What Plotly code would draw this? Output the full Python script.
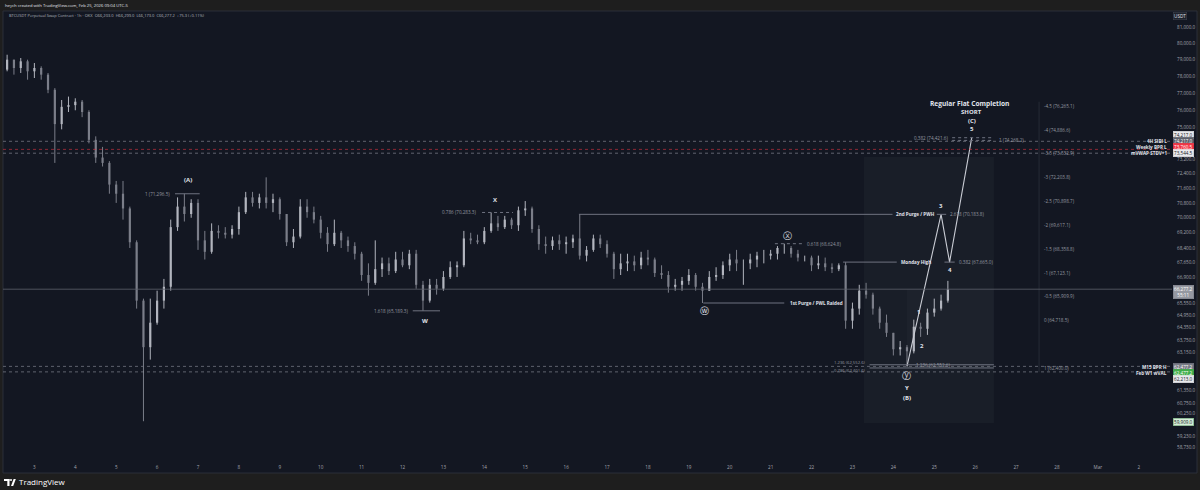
import math
import pandas as pd
import plotly.graph_objects as go

# ---------------------------------------------------------------
# BTCUSDT perpetual (OKX) - 4h bars, local time UTC-5
# ---------------------------------------------------------------
bar_start = "2026-02-02 04:00"
first_open = 77700.0

bar_close = [
    78400, 79000, 78500, 78900, 78300,                      # Feb 2
    78500, 78100, 77200, 75200, 76200, 76300,               # Feb 3
    76500, 75900, 74300, 73300, 73000, 71800,               # Feb 4
    71300, 70500, 68700, 65700, 63400, 64600,               # Feb 5
    65700, 66400, 69500, 70600, 70200, 70800,               # Feb 6
    68800, 68200, 69300, 69200, 69100, 69400,               # Feb 7
    70300, 71100, 70800, 71100, 70800, 71000,               # Feb 8
    70200, 68700, 69000, 70600, 70300, 69900,               # Feb 9
    69200, 68600, 69200, 68800, 68500, 68100,               # Feb 10
    67000, 66600, 67300, 67600, 67200, 67800,               # Feb 11
    67500, 68100, 66500, 65700, 66500, 66300,               # Feb 12
    66900, 67400, 67500, 68900, 68800, 68700,               # Feb 13
    69300, 69700, 69500, 69900, 69600, 70400,               # Feb 14
    70500, 69400, 68600, 68500, 68800, 68600,               # Feb 15
    68700, 68900, 68000, 68300, 68900, 68600,               # Feb 16
    68100, 67300, 67600, 67700, 67500, 67900,               # Feb 17
    67800, 67100, 67000, 66400, 66500, 66700,               # Feb 18
    67000, 66400, 66200, 66900, 67000, 67500,               # Feb 19
    67800, 67600, 67600, 67800, 68000, 68000,               # Feb 20
    68100, 68400, 68400, 68100, 67900, 67900,               # Feb 21
    67500, 67600, 67400, 67300, 67500, 64700,               # Feb 22
    65300, 66200, 66000, 65300, 64600, 64100,               # Feb 23
    63300, 63400, 63200, 64400, 64300, 65100,               # Feb 24
    65300, 65700, 66277.2,                                  # Feb 25
]
bar_high = [
    78700, 79300, 79000, 79100, 79000,
    78800, 78600, 78200, 77300, 76600, 76800,
    76700, 76600, 76000, 74500, 73900, 73100,
    72000, 72000, 70600, 68800, 65800, 65800,
    66200, 66800, 69900, 71100, 71296.5, 71000,
    71000, 69300, 69700, 69600, 69500, 69600,
    70600, 71400, 71400, 71300, 72200, 71300,
    71100, 70200, 69400, 71000, 71000, 70600,
    70100, 69500, 69900, 69300, 69000, 68700,
    68200, 67600, 68800, 67900, 67900, 68200,
    68200, 68300, 68300, 66700, 66800, 66800,
    67200, 67700, 67700, 69300, 69200, 69100,
    69500, 70283.3, 70100, 70100, 70000, 70600,
    70900, 70600, 69600, 69000, 69000, 69100,
    69000, 69100, 70180, 68500, 69100, 69100,
    68800, 68200, 68100, 68100, 68000, 68200,
    68300, 67900, 67500, 67200, 66800, 66900,
    67300, 67100, 66600, 67200, 67400, 67700,
    68100, 68300, 67800, 68100, 68200, 68300,
    68300, 68500, 68624.8, 68500, 68300, 68000,
    68000, 68000, 67900, 67600, 67600, 67665,
    65600, 66500, 66600, 66100, 65400, 65000,
    64100, 63700, 63500, 64750, 64600, 65300,
    65800, 66000, 66700,
]
bar_low = [
    77550, 78300, 78100, 78200, 77800,
    77900, 77800, 77000, 73000, 74900, 75900,
    76000, 75600, 74100, 73000, 72800, 71300,
    70800, 69900, 68400, 65300, 59909, 62800,
    64500, 65300, 66200, 69300, 69800, 70000,
    68300, 67800, 68100, 68900, 68900, 68900,
    69100, 70200, 70600, 70500, 70500, 70300,
    69900, 68500, 68400, 68900, 70000, 69700,
    68900, 68200, 68500, 68400, 68200, 67800,
    66700, 65950, 66500, 66900, 67000, 67100,
    67400, 67300, 66300, 65189.3, 65600, 66000,
    66200, 66800, 66900, 67400, 68600, 68600,
    68600, 69200, 69300, 69400, 69400, 69300,
    70100, 69200, 68300, 68100, 68300, 68300,
    68100, 68400, 67800, 67700, 68200, 68400,
    67900, 66800, 67000, 67200, 67200, 67300,
    67500, 66900, 66800, 66100, 66200, 66200,
    66500, 66200, 65580, 66200, 66700, 66800,
    67200, 67200, 66500, 67300, 67400, 67600,
    67800, 67800, 68100, 67900, 67700, 67700,
    67200, 67300, 67200, 67100, 67200, 64300,
    64300, 65000, 65800, 65000, 64300, 63900,
    63000, 63000, 62480, 63100, 63900, 64000,
    64900, 65200, 65600,
]

bar_time = list(pd.date_range(bar_start, periods=len(bar_close), freq="4h"))
bar_open = [first_open] + bar_close[:-1]

# Projected wave Y -> 3 -> 4 -> 5
wave_time = ["2026-02-24 08:00", "2026-02-25 04:00", "2026-02-25 09:00", "2026-02-25 22:00"]
wave_price = [62480.0, 70183.8, 67665.0, 74421.6]

# Fib extension labels on the right
fib_ratio = ["-4.5", "-4", "-3.5", "-3", "-2.5", "-2", "-1.5", "-1", "-0.5", "0", "1"]
fib_price = [76265.1, 74886.6, 73532.9, 72203.8, 70898.7, 69617.1, 68358.8,
             67123.1, 65909.9, 64718.5, 62400.0]

# Price scale ticks
price_ticks = [81000, 80000, 79000, 78000, 77000, 76000, 75000, 73200, 72400,
               71600, 70800, 70000, 69200, 68400, 67650, 66900, 65550, 64950,
               64350, 63750, 63150, 61350, 60750, 60250, 59230, 58730]

# Day ticks on the time scale
day_ticks = list(pd.date_range("2026-02-03", "2026-03-02", freq="D"))
day_text = ["Mar" if d.day == 1 else str(d.day) for d in day_ticks]

# Full-width reference levels
ref_price = [74217.0, 73760.5, 73544.5, 66277.2, 62477.2, 62213.0]
ref_color = ["rgba(120,123,134,0.75)", "rgba(242,54,69,0.55)", "rgba(149,152,161,0.6)",
             "rgba(93,96,107,0.8)", "rgba(120,123,134,0.75)", "rgba(149,152,161,0.6)"]
ref_dash = ["dot", "dot", "dot", "solid", "dot", "dot"]

# ---------------------------------------------------------------
W, H = 1200, 490
ML, MR, MT, MB = 3, 28, 11, 32
PW, PH = W - ML - MR, H - MT - MB

BG = "#131722"
FRAME = "#1e1e1e"
TXT = "#e0e3eb"
DIM = "#9598a1"
LINE = "#6f7380"
UP = "#b2b5be"
DN = "#7b7e89"
FONT = "Open Sans"


def px_x(px):
    return (px - ML) / PW


def px_y(py):
    return (H - MB - py) / PH


shapes = []
annotations = []


def note(x, price, text, size=4.6, color=DIM, bold=False, xanchor="center",
         yshift=0, xshift=0, family=FONT):
    annotations.append(dict(
        x=x, y=math.log10(price), xref="x", yref="y",
        text=f"<b>{text}</b>" if bold else text, showarrow=False,
        font=dict(family=family, size=size, color=color),
        xanchor=xanchor, yanchor="middle", xshift=xshift, yshift=yshift))


def seg(x0, x1, price, dash="solid", color=LINE, width=1):
    shapes.append(dict(type="line", xref="x", yref="y", x0=x0, x1=x1,
                       y0=price, y1=price, line=dict(color=color, width=width, dash=dash)))


def paper_text(px, py, text, size, color, xanchor="left", bold=False):
    annotations.append(dict(
        x=px_x(px), y=px_y(py), xref="paper", yref="paper",
        text=f"<b>{text}</b>" if bold else text, showarrow=False,
        font=dict(family=FONT, size=size, color=color),
        xanchor=xanchor, yanchor="middle"))


def price_box(py, text, bg, fg, border=None):
    annotations.append(dict(
        x=px_x(1173), y=px_y(py), xref="paper", yref="paper", text=text,
        showarrow=False, xanchor="left", yanchor="middle",
        font=dict(family=FONT, size=4.6, color=fg), bgcolor=bg,
        bordercolor=border or bg, borderwidth=0.5, borderpad=0.6))


# Chart pane background and frame
shapes.append(dict(type="rect", xref="paper", yref="paper", layer="below",
                   x0=px_x(3), x1=px_x(1197), y0=px_y(473), y1=px_y(11),
                   fillcolor=BG, line=dict(color="#2a2e39", width=1)))

# Projection zone
shapes.append(dict(type="rect", xref="x", yref="y", layer="below",
                   x0="2026-02-23 06:40", x1="2026-02-26 11:00", y0=59827, y1=73331,
                   fillcolor="rgba(120,123,134,0.07)", line=dict(width=0)))
shapes.append(dict(type="rect", xref="x", yref="y", layer="below",
                   x0="2026-02-24 08:00", x1="2026-02-26 11:00", y0=62400, y1=66277.2,
                   fillcolor="rgba(120,123,134,0.05)", line=dict(width=0)))

# Fib extension guide
shapes.append(dict(type="line", xref="x", yref="y", x0="2026-02-27 13:30",
                   x1="2026-02-27 13:30", y0=62200, y1=76500,
                   line=dict(color="#262a35", width=1)))

# Full-width levels
for p, c, d in zip(ref_price, ref_color, ref_dash):
    shapes.append(dict(type="line", xref="paper", yref="y", x0=0, x1=1, y0=p, y1=p,
                       line=dict(color=c, width=1, dash=d)))

# Drawn levels
seg("2026-02-06 10:30", "2026-02-07 01:00", 71296.5)
seg("2026-02-12 06:00", "2026-02-12 22:00", 65189.3)
seg("2026-02-13 22:40", "2026-02-14 16:50", 70283.3, dash="dot")
seg("2026-02-19 08:30", "2026-02-21 08:00", 65580.0)
seg("2026-02-21 02:30", "2026-02-21 18:30", 68624.8, dash="dot")
seg("2026-02-16 07:30", "2026-02-23 23:30", 70183.8)
seg("2026-02-22 18:30", "2026-02-24 02:00", 67665.0)
seg("2026-02-25 06:00", "2026-02-25 12:00", 67665.0)
seg("2026-02-25 01:30", "2026-02-25 07:00", 70183.8)
seg("2026-02-25 10:30", "2026-02-26 10:30", 74421.6, dash="dot")
seg("2026-02-25 10:30", "2026-02-26 10:30", 74268.2, dash="dot")
seg("2026-02-23 10:00", "2026-02-26 11:00", 62552.6)
seg("2026-02-23 10:00", "2026-02-26 11:00", 62400.0)

# Level labels
note("2026-02-06 09:00", 71296.5, "1 (71,296.5)", xanchor="right")
note("2026-02-12 04:20", 65189.3, "1.618 (65,189.3)", xanchor="right")
note("2026-02-13 20:20", 70283.3, "0.786 (70,283.3)", xanchor="right")
note("2026-02-21 10:00", 65580.0, "1st Purge / PWL Raided", color=TXT, bold=True, xanchor="left")
note("2026-02-21 20:10", 68624.8, "0.618 (68,624.8)", xanchor="left")
note("2026-02-24 00:20", 70183.8, "2nd Purge / PWH", color=TXT, bold=True, xanchor="left")
note("2026-02-24 03:20", 67665.0, "Monday High", color=TXT, bold=True, xanchor="left")
note("2026-02-25 13:30", 67665.0, "0.382 (67,665.0)", xanchor="left")
note("2026-02-25 08:10", 70183.8, "2.618 (70,183.8)", xanchor="left")
note("2026-02-25 09:20", 74421.6, "0.382 (74,421.6)", xanchor="right")
note("2026-02-26 12:40", 74268.2, "1 (74,268.2)", xanchor="left")
note("2026-02-24 12:15", 62552.6, "1.236 (62,552.6)", xanchor="left")
note("2026-02-23 09:00", 62552.6, "1.236 (62,552.6)", size=4.2, xanchor="right", yshift=2.5)
note("2026-02-23 09:00", 62401.6, "0.786 (62,401.6)", size=4.2, xanchor="right", yshift=-2.5)
for r, p in zip(fib_ratio, fib_price):
    note("2026-02-27 15:20", p, f"{r} ({p:,.1f})", xanchor="left")

# Wave labels
note("2026-02-06 18:00", 71296.5, "(A)", size=6, color=TXT, bold=True, yshift=14)
note("2026-02-12 13:10", 65189.3, "W", size=6, color=TXT, bold=True, yshift=-10)
note("2026-02-14 06:15", 70283.3, "X", size=6, color=TXT, bold=True, yshift=12.5)
note("2026-02-19 08:55", 65580.0, "ⓦ", size=8.5, color=TXT, yshift=-8, family="DejaVu Sans")
note("2026-02-21 09:40", 68624.8, "ⓧ", size=8.5, color=TXT, yshift=8, family="DejaVu Sans")
note("2026-02-24 08:00", 62480.0, "ⓨ", size=8.5, color=TXT, yshift=-10, family="DejaVu Sans")
note("2026-02-24 08:00", 62480.0, "Y", size=6, color=TXT, bold=True, yshift=-22)
note("2026-02-24 08:00", 62480.0, "(B)", size=6, color=TXT, bold=True, yshift=-32)
note("2026-02-24 14:40", 64750.0, "1", size=6, color=TXT, bold=True, yshift=7.5)
note("2026-02-24 16:40", 63900.0, "2", size=6, color=TXT, bold=True, yshift=-9)
note("2026-02-25 04:00", 70183.8, "3", size=6, color=TXT, bold=True, yshift=8)
note("2026-02-25 09:00", 67665.0, "4", size=6, color=TXT, bold=True, yshift=-8)
note("2026-02-25 22:00", 74421.6, "5", size=6, color=TXT, bold=True, yshift=9)
note("2026-02-25 22:00", 74421.6, "(C)", size=6, color=TXT, bold=True, yshift=17)
note("2026-02-25 22:00", 74421.6, "SHORT", size=6, color=TXT, bold=True, yshift=25.5)
note("2026-02-25 20:30", 74421.6, "Regular Flat Completion", size=6.6, color=TXT,
     bold=True, yshift=34.5)

# Labels beside the price scale
paper_text(1169, 141, "4H SIBI L", 4.6, TXT, xanchor="right", bold=True)
paper_text(1169, 147, "Weekly BPR L", 4.6, TXT, xanchor="right", bold=True)
paper_text(1169, 153, "mVWAP STDV+1", 4.6, TXT, xanchor="right", bold=True)
paper_text(1169, 367, "M15 BPR H", 4.6, TXT, xanchor="right", bold=True)
paper_text(1169, 373, "Feb W1 wVAL", 4.6, TXT, xanchor="right", bold=True)

# Price scale boxes
price_box(16, "USDT", "#1e222d", TXT, border="#434651")
price_box(135, "74,217.0", "#e8e9ec", "#131722")
price_box(141, "74,217.0", "#5d606b", "#ffffff")
price_box(147, "73,760.5", "#f23645", "#ffffff")
price_box(153, "73,544.5", "#e8e9ec", "#131722")
price_box(292, "66,277.2<br>55:11", "#9598a1", "#ffffff")
price_box(367, "62,477.2", "#787b86", "#ffffff")
price_box(373, "62,477.2", "#3fae49", "#ffffff")
price_box(379, "62,213.0", "#e8e9ec", "#131722")
price_box(422, "59,909.0", "#d6eed8", "#131722", border="#7fbf86")

# Header and footer
paper_text(3, 5, "heych created with TradingView.com, Feb 25, 2026 09:04 UTC-5", 4.2, "#e0e3eb")
paper_text(7, 16, "BTCUSDT Perpetual Swap Contract · 1h · OKX&nbsp;&nbsp;"
           "O66,203.0&nbsp;&nbsp;H66,299.0&nbsp;&nbsp;L66,173.0&nbsp;&nbsp;C66,277.2"
           "&nbsp;&nbsp;+75.3 (+0.11%)", 4.0, "#b2b5be")
paper_text(17, 482, "TradingView", 8, "#ffffff")

# TradingView logo mark
shapes.append(dict(type="rect", xref="paper", yref="paper", x0=px_x(4), x1=px_x(9.5),
                   y0=px_y(481), y1=px_y(479), fillcolor="#ffffff", line=dict(width=0)))
shapes.append(dict(type="rect", xref="paper", yref="paper", x0=px_x(7.3), x1=px_x(9.5),
                   y0=px_y(486), y1=px_y(479), fillcolor="#ffffff", line=dict(width=0)))
shapes.append(dict(type="circle", xref="paper", yref="paper", x0=px_x(10), x1=px_x(12),
                   y0=px_y(481), y1=px_y(479), fillcolor="#ffffff", line=dict(width=0)))
shapes.append(dict(type="path", xref="paper", yref="paper",
                   path=f"M {px_x(11)},{px_y(486)} L {px_x(13.6)},{px_y(479)} "
                        f"L {px_x(15.8)},{px_y(479)} L {px_x(13.2)},{px_y(486)} Z",
                   fillcolor="#ffffff", line=dict(width=0)))


# Candles: thin wicks plus narrow bodies, split by direction
def candle_paths(rising):
    wx, wy, bx, by = [], [], [], []
    for t, o, h, l, c in zip(bar_time, bar_open, bar_high, bar_low, bar_close):
        if (c >= o) != rising:
            continue
        wx += [t, t, None]
        wy += [l, h, None]
        bx += [t, t, None]
        by += [o, c, None]
    return wx, wy, bx, by


fig = go.Figure()
for rising, col in ((True, UP), (False, DN)):
    wx, wy, bx, by = candle_paths(rising)
    fig.add_trace(go.Scatter(x=wx, y=wy, mode="lines", line=dict(color=col, width=1),
                             showlegend=False, hoverinfo="skip"))
    fig.add_trace(go.Scatter(x=bx, y=by, mode="lines", line=dict(color=col, width=2.2),
                             showlegend=False, hoverinfo="skip"))

fig.add_trace(go.Scatter(
    x=wave_time, y=wave_price, mode="lines",
    line=dict(color="#c9ccd4", width=1.1), showlegend=False, hoverinfo="skip"))

fig.update_layout(
    width=W, height=H,
    margin=dict(l=ML, r=MR, t=MT, b=MB),
    paper_bgcolor=FRAME, plot_bgcolor=BG,
    showlegend=False,
    hovermode=False,
    shapes=shapes,
    annotations=annotations,
    font=dict(family=FONT, color=DIM),
    xaxis=dict(
        type="date", range=["2026-02-02 05:35", "2026-03-02 19:30"],
        tickvals=day_ticks, ticktext=day_text, tickfont=dict(size=4.6, color="#a3a6af"),
        showgrid=False, zeroline=False, showline=False, ticks="",
        ticklabelstandoff=5, fixedrange=True),
    yaxis=dict(
        type="log", side="right", range=[4.765269, 4.913802],
        tickvals=price_ticks, ticktext=[f"{v:,.1f}" for v in price_ticks],
        tickfont=dict(size=4.6, color="#a3a6af"),
        showgrid=False, zeroline=False, showline=False, ticks="",
        ticklabelstandoff=4, fixedrange=True),
)

fig.write_html("out.html")
